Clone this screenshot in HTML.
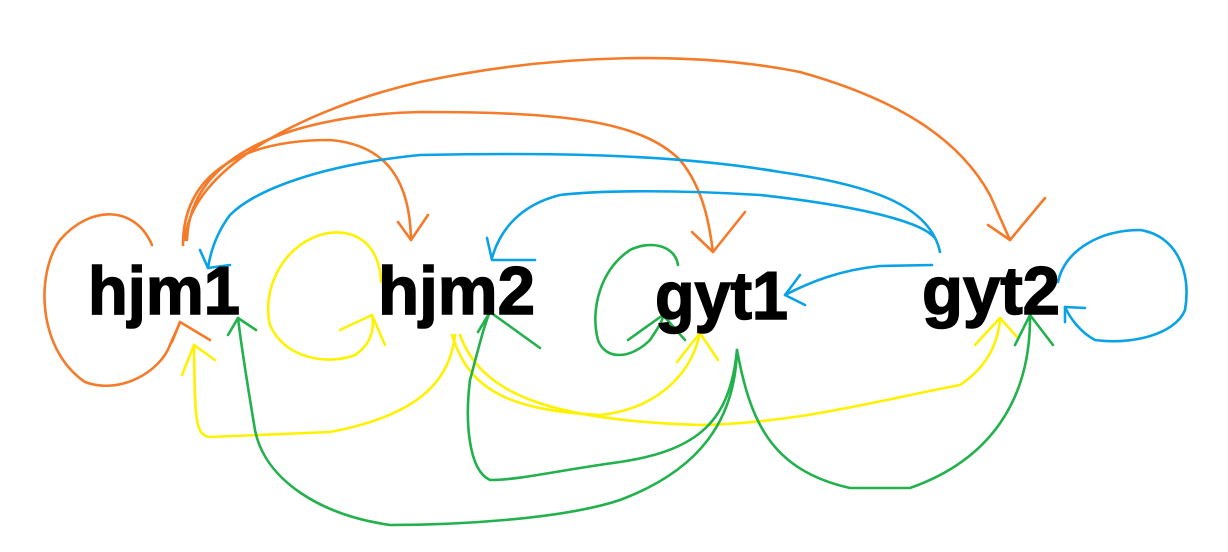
<!DOCTYPE html>
<html><head><meta charset="utf-8"><style>
html,body{margin:0;padding:0;background:#fff;width:1228px;height:552px;overflow:hidden}
</style></head><body>
<svg width="1228" height="552" viewBox="0 0 1228 552" xmlns="http://www.w3.org/2000/svg">
<g fill="none" stroke-width="2.6" stroke-linecap="round" stroke-linejoin="round">
<g stroke="#f47b2a">
<path d="M152,245 C135,205 90,205 60,240 C35,275 38,350 85,382 C120,395 160,372 170,345 C174,335 178,328 180,322"/>
<path d="M172,342 L180,322 L210,340"/>
<path d="M183,245 C183,175 240,140 330,140 C390,145 410,185 411,240"/>
<path d="M398,222 L411,240 L428,215"/>
<path d="M187,240 C190,150 300,115 420,112 C560,112 640,120 680,160 C705,190 710,230 713,252"/>
<path d="M692,232 L713,252 L745,212"/>
<path d="M185,240 C190,170 300,110 420,82 C560,52 700,52 800,72 C900,100 960,140 990,195 L1010,240"/>
<path d="M988,225 L1010,240 L1045,198"/>
</g>
<g stroke="#0aa2e6">
<path d="M940,252 C930,205 870,185 780,172 C680,155 560,152 420,155 C320,165 255,190 230,215 C215,235 210,255 208,268"/>
<path d="M200,250 L208,268 L230,265"/>
<path d="M935,238 C920,220 850,205 760,195 C680,190 600,190 560,195 C520,205 500,230 492,258"/>
<path d="M487,238 L492,260 L535,260"/>
<path d="M932,265 L880,266 C840,270 810,282 785,295"/>
<path d="M800,275 L785,295 L805,305"/>
<path d="M1058,282 C1065,250 1100,230 1140,230 C1175,235 1192,270 1185,310 C1175,335 1130,345 1095,340 C1080,332 1070,318 1065,307"/>
<path d="M1065,322 L1065,307 L1085,308"/>
</g>
<g stroke="#fff200">
<path d="M381,282 C380,245 355,225 320,235 C280,248 262,292 270,325 C285,360 330,365 355,355 C370,345 375,330 372,315"/>
<path d="M340,330 L372,315 L385,345"/>
<path d="M455,335 C450,380 420,415 330,432 L210,437 C195,435 195,420 194,345"/>
<path d="M182,375 L194,345 L215,360"/>
<path d="M452,335 C468,385 500,410 600,415 C650,410 690,380 700,333"/>
<path d="M677,362 L700,333 L718,360"/>
<path d="M460,335 C480,390 540,420 700,425 C800,423 880,400 960,385 C990,365 998,340 1000,320"/>
<path d="M975,345 L1000,318 L1018,338"/>
</g>
<g stroke="#22b14c">
<path d="M678,265 C675,245 650,240 630,250 C600,270 590,310 598,340 C605,360 630,360 650,340 C660,325 663,320 663,315"/>
<path d="M628,340 L663,315 L685,340"/>
<path d="M737,350 C735,420 700,470 620,500 C560,520 450,525 390,525 C320,515 265,480 255,430 C245,370 240,335 238,318"/>
<path d="M228,335 L238,318 L256,330"/>
<path d="M737,350 C730,420 700,450 620,462 C560,470 520,480 490,480 C468,470 465,420 470,380 C478,350 485,322 490,312"/>
<path d="M478,332 L490,312 L540,348"/>
<path d="M737,350 C750,420 770,470 850,488 L910,488 C990,460 1030,400 1030,318"/>
<path d="M1015,345 L1030,315 L1053,345"/>
</g>
</g>
<g font-family="Liberation Sans, Arial, sans-serif" font-weight="bold" font-size="68" fill="#000" stroke="#000" stroke-width="1.5">
<text x="88" y="314" textLength="152" lengthAdjust="spacingAndGlyphs">hjm1</text>
<text x="378" y="314" textLength="157" lengthAdjust="spacingAndGlyphs">hjm2</text>
<text x="655" y="319" textLength="133" lengthAdjust="spacingAndGlyphs">gyt1</text>
<text x="922" y="314" textLength="138" lengthAdjust="spacingAndGlyphs">gyt2</text>
</g>
</svg>
</body></html>
